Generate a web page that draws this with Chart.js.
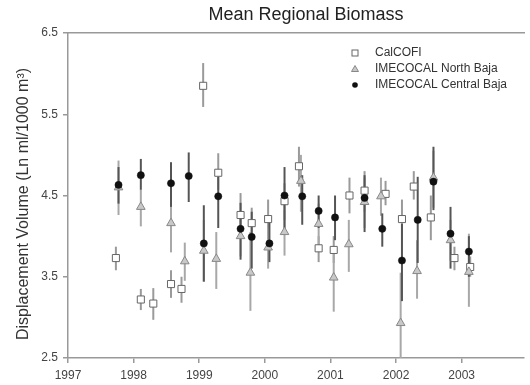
<!DOCTYPE html>
<html><head><meta charset="utf-8">
<script src="https://cdn.jsdelivr.net/npm/chart.js@4/dist/chart.umd.min.js"></script>
<style>html,body{margin:0;padding:0;background:#fff}#wrap{width:530px;height:385px}</style>
</head><body><div id="wrap"><canvas id="c" width="530" height="385"></canvas></div>
<script>
const chartTitle = 'Mean Regional Biomass';
const yTitle = 'Displacement Volume (Ln ml/1000 m³)';
const seriesNames = ['CalCOFI', 'IMECOCAL North Baja', 'IMECOCAL Central Baja'];
const yearTicks = [1997, 1998, 1999, 2000, 2001, 2002, 2003];
const valueTicks = [2.5, 3.5, 4.5, 5.5, 6.5];

const calcofiT  = [1997.73,1998.11,1998.30,1998.57,1998.73,1999.06,1999.29,1999.63,1999.80,2000.05,2000.30,2000.52,2000.82,2001.05,2001.29,2001.52,2001.84,2002.09,2002.27,2002.53,2002.89,2003.13];
const calcofiV  = [3.73,3.22,3.17,3.41,3.35,5.85,4.78,4.26,4.16,4.21,4.43,4.86,3.85,3.83,4.50,4.56,4.52,4.21,4.61,4.23,3.73,3.62];
const calcofiLo = [3.58,3.09,2.97,3.24,3.18,5.59,4.57,4.03,3.98,3.96,4.20,4.61,3.68,3.67,4.28,4.30,4.38,3.95,4.45,3.95,3.58,3.50];
const calcofiHi = [3.87,3.35,3.36,3.58,3.50,6.13,5.02,4.53,4.35,4.45,4.65,5.10,4.00,4.00,4.72,4.80,4.68,4.45,4.80,4.50,3.87,3.75];

const northT  = [1997.77,1998.11,1998.57,1998.78,1999.07,1999.26,1999.63,1999.78,2000.05,2000.30,2000.55,2000.82,2001.05,2001.28,2001.52,2001.77,2002.07,2002.32,2002.57,2002.83,2003.11];
const northV  = [4.60,4.36,4.16,3.69,3.82,3.72,4.00,3.55,3.86,4.05,4.68,4.15,3.49,3.90,4.42,4.49,2.93,3.57,4.72,3.95,3.56];
const northLo = [4.26,4.12,3.80,3.45,3.44,3.35,3.75,3.08,3.60,3.76,4.30,3.90,3.07,3.56,4.10,4.25,2.30,3.23,4.35,3.70,3.13];
const northHi = [4.93,4.57,4.53,3.92,4.20,4.05,4.30,4.05,4.10,4.32,5.00,4.40,3.87,4.20,4.72,4.72,3.55,3.95,5.05,4.20,4.03];

const centralT  = [1997.77,1998.11,1998.57,1998.84,1999.07,1999.29,1999.63,1999.80,2000.07,2000.30,2000.57,2000.82,2001.07,2001.52,2001.79,2002.09,2002.33,2002.57,2002.83,2003.11];
const centralV  = [4.63,4.75,4.65,4.74,3.91,4.49,4.09,3.99,3.91,4.50,4.49,4.31,4.23,4.47,4.09,3.70,4.20,4.67,4.03,3.81];
const centralLo = [4.40,4.57,4.36,4.42,3.44,4.10,3.71,3.60,3.68,4.08,4.14,4.10,3.95,4.05,3.87,3.20,3.67,4.32,3.60,3.50];
const centralHi = [4.85,4.95,4.91,5.03,4.38,4.73,4.41,4.30,4.20,4.85,4.75,4.50,4.50,4.75,4.28,4.15,4.73,5.10,4.36,4.00];

const FONT = "'Liberation Sans', Arial, sans-serif";
const pts = (t, v) => t.map((x, i) => ({x: x, y: v[i]}));

const errSets = [
  {t: calcofiT, lo: calcofiLo, hi: calcofiHi, color: '#9a9a9a'},
  {t: northT, lo: northLo, hi: northHi, color: '#a8a8a8'},
  {t: centralT, lo: centralLo, hi: centralHi, color: '#555555'}
];

const errorBars = {
  id: 'errorBars',
  beforeDatasetsDraw(chart) {
    const {ctx, chartArea: a, scales: {x, y}} = chart;
    ctx.save();
    ctx.beginPath(); ctx.rect(a.left, a.top, a.right - a.left, a.bottom - a.top); ctx.clip();
    ctx.lineWidth = 2;
    errSets.forEach(s => {
      ctx.strokeStyle = s.color;
      s.t.forEach((t, i) => {
        const px = x.getPixelForValue(t);
        ctx.beginPath();
        ctx.moveTo(px, y.getPixelForValue(s.lo[i]));
        ctx.lineTo(px, y.getPixelForValue(s.hi[i]));
        ctx.stroke();
      });
    });
    ctx.restore();
  }
};

const decor = {
  id: 'decor',
  afterDraw(chart) {
    const {ctx} = chart;
    ctx.save();
    ctx.fillStyle = '#222';
    ctx.font = '18px ' + FONT;
    ctx.textAlign = 'center'; ctx.textBaseline = 'middle';
    ctx.fillText(chartTitle, 306, 15);
    ctx.save();
    ctx.translate(24, 204); ctx.rotate(-Math.PI / 2);
    ctx.font = '16px ' + FONT; ctx.fillStyle = '#333';
    ctx.fillText(yTitle, 0, 0);
    ctx.restore();
    // legend
    const lx = 355, rows = [53, 69, 85];
    ctx.font = '12px ' + FONT; ctx.textAlign = 'left'; ctx.fillStyle = '#333';
    seriesNames.forEach((n, i) => ctx.fillText(n, 375, rows[i]));
    ctx.lineWidth = 1;
    ctx.strokeStyle = '#666'; ctx.fillStyle = '#fff';
    ctx.fillRect(lx - 3, rows[0] - 3, 6, 6); ctx.strokeRect(lx - 3, rows[0] - 3, 6, 6);
    ctx.beginPath(); ctx.moveTo(lx, rows[1] - 3.5); ctx.lineTo(lx + 3.5, rows[1] + 2.5); ctx.lineTo(lx - 3.5, rows[1] + 2.5); ctx.closePath();
    ctx.fillStyle = '#c8c8c8'; ctx.fill(); ctx.strokeStyle = '#888'; ctx.stroke();
    ctx.beginPath(); ctx.arc(lx, rows[2], 2.8, 0, Math.PI * 2); ctx.fillStyle = '#111'; ctx.fill();
    ctx.restore();
  }
};

const axisGrid = {display: true, drawOnChartArea: false, drawTicks: true, tickLength: 5, color: '#999', lineWidth: 1.5};
const axisBorder = {display: true, color: '#999', width: 1.5};
const tickFont = {size: 12, family: FONT};

new Chart(document.getElementById('c'), {
  type: 'scatter',
  data: {
    datasets: [
      {label: seriesNames[2], data: pts(centralT, centralV), pointStyle: 'circle', pointRadius: 3.6, backgroundColor: '#111', borderColor: '#111', borderWidth: 0.5},
      {label: seriesNames[1], data: pts(northT, northV), pointStyle: 'triangle', pointRadius: 5, backgroundColor: '#c8c8c8', borderColor: '#888', borderWidth: 1},
      {label: seriesNames[0], data: pts(calcofiT, calcofiV), pointStyle: 'rect', pointRadius: 5, backgroundColor: '#fff', borderColor: '#666', borderWidth: 1}
    ]
  },
  options: {
    responsive: false, animation: false,
    layout: {padding: {top: 33, left: 0, right: 0, bottom: 0}},
    plugins: {legend: {display: false}, title: {display: false}, tooltip: {enabled: false}},
    scales: {
      x: {
        type: 'linear', position: 'bottom', min: 1997, max: 2003.95,
        afterBuildTicks: s => { s.ticks = yearTicks.map(v => ({value: v})); },
        afterFit: s => { s.height = 27; },
        grid: axisGrid, border: axisBorder,
        ticks: {font: tickFont, color: '#444', padding: 5, maxRotation: 0, autoSkip: false, callback: v => String(v)}
      },
      x2: {
        type: 'linear', position: 'top', min: 1997, max: 2003.95,
        afterFit: s => { s.height = 0; },
        grid: {display: false, drawTicks: false}, border: axisBorder,
        ticks: {display: false}
      },
      y: {
        type: 'linear', min: 2.5, max: 6.5,
        afterBuildTicks: s => { s.ticks = valueTicks.map(v => ({value: v})); },
        afterFit: s => { s.width = 68; },
        grid: axisGrid, border: axisBorder,
        ticks: {font: tickFont, color: '#444', padding: 5, callback: v => Number(v).toFixed(1)}
      }
    }
  },
  plugins: [errorBars, decor]
});
</script>
</body></html>
